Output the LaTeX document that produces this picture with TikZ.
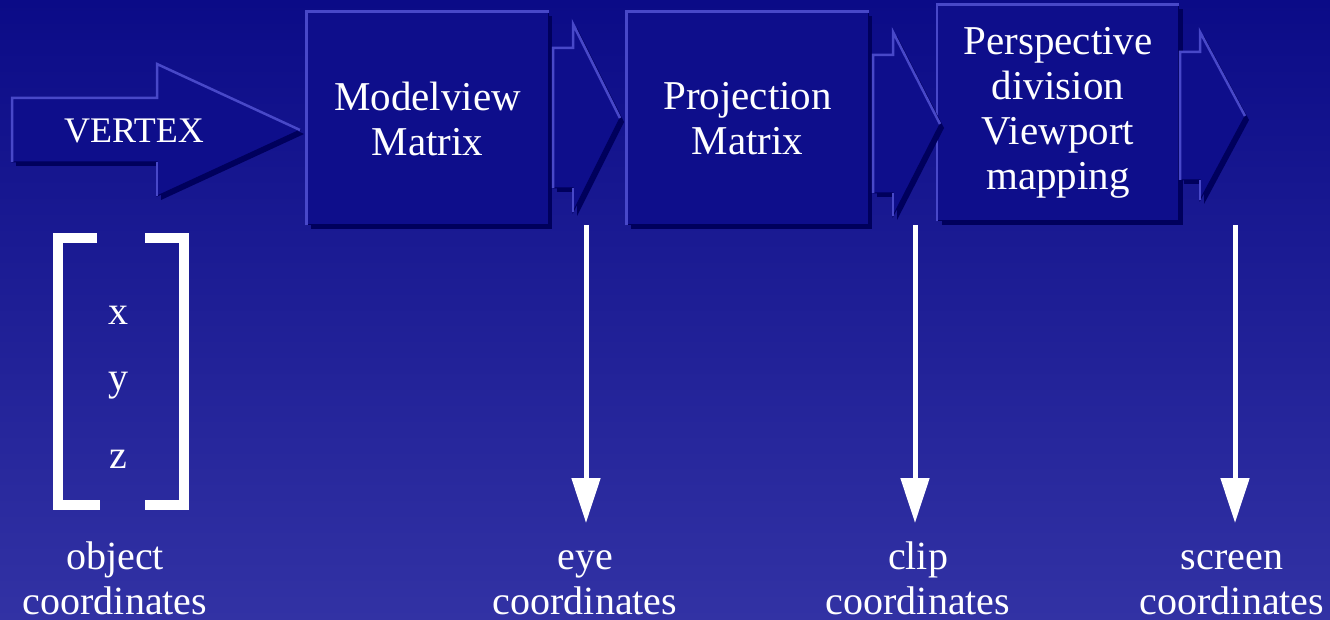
\documentclass[tikz,border=0pt]{standalone}
\usepackage{fontspec}
\setmainfont{Liberation Serif}
\usetikzlibrary{positioning, arrows.meta, shadows}
\definecolor{bgtop}{RGB}{11,11,135}
\definecolor{bgbottom}{RGB}{50,50,164}
\definecolor{boxfill}{RGB}{14,14,139}
\definecolor{boxdark}{RGB}{0,0,92}
\definecolor{boxlight}{RGB}{72,72,200}

% fat flow arrow: shaft left, head base, tip x, middle y, shaft half height, head half height
\newcommand{\flowarrow}[6]{%
  \fill[boxdark, shift={(4,4)}] (#1,#4-#5) -- (#2,#4-#5) -- (#2,#4-#6) -- (#3,#4) -- (#2,#4+#6) -- (#2,#4+#5) -- (#1,#4+#5) -- cycle;
  \filldraw[fill=boxfill, draw=boxdark, line width=1pt] (#1,#4-#5) -- (#2,#4-#5) -- (#2,#4-#6) -- (#3,#4) -- (#2,#4+#6) -- (#2,#4+#5) -- (#1,#4+#5) -- cycle;
  \draw[lightedge] (#3,#4) -- (#2,#4-#6) -- (#2,#4-#5) -- (#1,#4-#5) -- (#1,#4+#5);
  \draw[lightedge] (#2,#4+#5) -- (#2,#4+#6);
}

\begin{document}
\begin{tikzpicture}[
  x=1pt, y=-1pt,
  stage/.style={rectangle, fill=boxfill, draw=boxdark, line width=1pt, minimum width=241pt, minimum height=213pt, align=center, text=white, font=\fontsize{41}{45}\selectfont, drop shadow={shadow xshift=4pt, shadow yshift=-4pt, fill=boxdark, opacity=1}},
  lightedge/.style={boxlight, line width=2.5pt},
  caption/.style={text=white, inner sep=0pt, align=center, font=\fontsize{40}{45}\selectfont},
  dropline/.style={white, line width=5pt, -{Triangle[width=28pt, length=45pt]}},
  bracket/.style={white, line width=10pt, miter limit=10}
]
\shade[top color=bgtop, bottom color=bgbottom] (0,0) rectangle (1330,620);

% vertex arrow
\flowarrow{12}{157}{300}{130}{32}{66}
\node[caption, font=\fontsize{36}{40}\selectfont] (vertex) at (134,131) {VERTEX};

% stages
\node[stage] (modelview) at (427.5,118.5) {Modelview\\Matrix};
\node[stage] (projection) at (747.5,118.5) {Projection\\Matrix};
\node[stage, minimum height=216pt] (perspective) at (1058,113) {Perspective\\division\\Viewport\\mapping};
\draw[lightedge] (modelview.south west) -- (modelview.north west) -- (modelview.north east);
\draw[lightedge] (projection.south west) -- (projection.north west) -- (projection.north east);
\draw[lightedge] (perspective.south west) -- (perspective.north west) -- (perspective.north east);

\flowarrow{553}{573}{620}{118}{70}{94}
\flowarrow{873}{893}{940}{124}{69}{92}
\flowarrow{1180}{1200}{1245}{116}{64}{84}

% object coordinates
\draw[bracket] (97,238) -- (58,238) -- (58,505) -- (100,505);
\draw[bracket] (145,238) -- (184,238) -- (184,505) -- (145,505);
\node[caption] (vx) at (118,315) {x};
\node[caption] (vy) at (118,386) {y};
\node[caption] (vz) at (118,459) {z};

\node[caption, anchor=base] (object) at (115,614) {object\\coordinates};
\node[caption, anchor=base] (eye) at (585,614) {eye\\coordinates};
\node[caption, anchor=base] (clip) at (918,614) {clip\\coordinates};
\node[caption, anchor=base] (screen) at (1232,614) {screen\\coordinates};

\coordinate (eyeout) at (586,225);
\coordinate (eyein) at (586,523);
\coordinate (clipout) at (915,225);
\coordinate (clipin) at (915,523);
\coordinate (screenout) at (1235,225);
\coordinate (screenin) at (1235,523);
\draw[dropline] (eyeout) -- (eyein);
\draw[dropline] (clipout) -- (clipin);
\draw[dropline] (screenout) -- (screenin);
\end{tikzpicture}
\end{document}
